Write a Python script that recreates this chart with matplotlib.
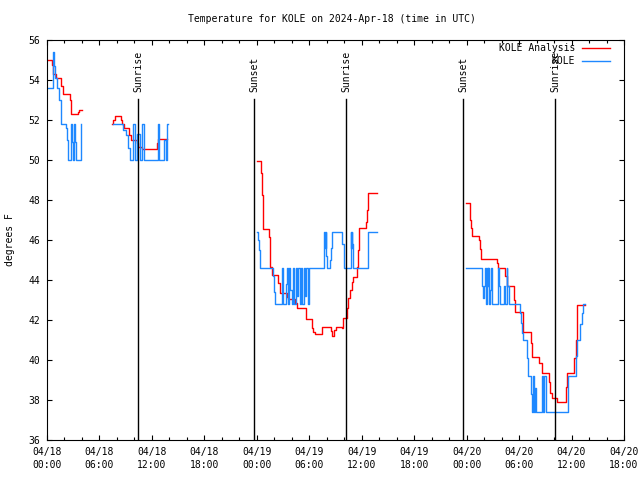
import matplotlib
matplotlib.use('Agg')
import matplotlib.pyplot as plt
from matplotlib.ticker import FixedLocator, MultipleLocator

plt.rcParams['font.family'] = 'DejaVu Sans Mono'
plt.rcParams['font.size'] = 7

# time axis in hours since 2024-04-18 00:00 UTC
tick_hours = [0, 6, 12, 18, 24, 30, 36, 42, 48, 54, 60, 66]
tick_labels = ['04/18\n00:00', '04/18\n06:00', '04/18\n12:00', '04/18\n18:00',
               '04/19\n00:00', '04/19\n06:00', '04/19\n12:00', '04/19\n18:00',
               '04/20\n00:00', '04/20\n06:00', '04/20\n12:00', '04/20\n18:00']

# KOLE Analysis (red), one list per stretch of data
red_t1 = [0.15, 0.53, 0.72, 1.03, 1.6, 1.8, 2.63, 2.75, 3.5, 3.7, 3.97]
red_v1 = [55.0, 54.75, 54.3, 54.1, 53.7, 53.3, 53.0, 52.3, 52.4, 52.5, 52.5]
red_t2 = [7.47, 7.6, 7.78, 8.46, 8.62, 8.8, 9.38, 9.61, 10.26, 10.45, 10.83, 12.55, 12.74, 13.76]
red_v2 = [51.8, 52.0, 52.2, 52.0, 51.8, 51.6, 51.25, 51.0, 50.85, 50.65, 50.55, 50.85, 51.05, 51.05]
red_t3 = [24.06, 24.44, 24.55, 24.67, 24.74, 25.43, 25.55, 25.7, 26.46, 26.65, 27.42, 27.6,
          28.37, 28.63, 29.63, 30.35, 30.47, 30.66, 31.5, 32.49, 32.64, 32.87, 33.02, 33.78,
          33.9, 34.35, 34.47, 34.66, 34.85, 35.04, 35.42, 35.54, 35.69, 36.45, 36.57, 36.68, 37.71]
red_v3 = [49.95, 49.33, 48.25, 47.13, 46.53, 46.17, 44.67, 44.25, 43.83, 43.33, 43.17, 43.05,
          42.83, 42.58, 42.05, 41.58, 41.4, 41.3, 41.67, 41.45, 41.2, 41.5, 41.67, 41.58,
          42.08, 42.6, 43.08, 43.5, 43.92, 44.13, 44.67, 45.5, 46.58, 46.9, 47.5, 48.37, 48.37]
red_t4 = [47.93, 48.38, 48.5, 48.65, 49.4, 49.5, 49.65, 51.44, 51.63, 52.39, 52.58, 53.42,
          53.55, 54.41, 54.49, 55.33, 55.44, 56.31, 56.59, 57.42, 57.54, 57.73, 58.3, 59.33,
          59.52, 60.28, 60.51, 60.66, 61.54]
red_v4 = [47.83, 47.0, 46.6, 46.2, 46.0, 45.53, 45.03, 44.83, 44.58, 44.2, 43.7, 43.0,
          42.38, 41.92, 41.38, 40.83, 40.17, 39.83, 39.33, 38.92, 38.33, 38.08, 37.92, 38.67,
          39.37, 40.08, 41.0, 42.75, 42.75]

# KOLE observations (blue)
blue_t1 = [0.15, 0.72, 0.8, 0.92, 1.1, 1.41, 1.55, 2.17, 2.33, 2.44, 2.71, 2.82, 2.93,
           3.09, 3.2, 3.32, 3.89, 3.9]
blue_v1 = [53.6, 55.4, 54.7, 54.1, 53.6, 53.0, 51.8, 51.6, 51.0, 50.0, 51.8, 50.9, 50.0,
           51.8, 50.9, 50.0, 51.8, 51.8]
blue_t2 = [7.51, 8.73, 9.04, 9.3, 9.49, 9.87, 10.07, 10.33, 10.64, 10.9, 11.13, 12.74,
           12.85, 13.42, 13.58, 13.69, 13.8]
blue_v2 = [51.8, 51.5, 51.25, 50.6, 50.0, 51.8, 50.0, 51.3, 50.0, 51.8, 50.0, 51.8,
           50.0, 51.0, 50.0, 51.8, 51.8]
blue_t3 = [24.06, 24.17, 24.25, 24.36, 25.85, 25.95, 26.1, 26.85, 26.95, 27.3, 27.4, 27.55,
           27.7, 27.85, 28.0, 28.15, 28.3, 28.45, 28.6, 28.75, 28.9, 29.05, 29.2, 29.35,
           29.5, 29.65, 29.8, 29.95, 31.69, 31.8, 31.88, 31.95, 32.0, 32.37, 32.49, 32.64,
           33.7, 33.97, 34.74, 34.8, 34.85, 34.9, 34.97, 36.76, 37.71]
blue_v3 = [46.4, 46.0, 45.5, 44.6, 44.2, 43.4, 42.8, 44.6, 42.8, 43.8, 44.6, 42.8,
           44.6, 43.5, 42.8, 44.6, 42.8, 44.6, 43.2, 44.6, 42.8, 44.6, 42.8, 44.6,
           43.2, 44.6, 42.8, 44.6, 46.4, 45.6, 46.4, 45.2, 44.6, 45.0, 45.6, 46.4,
           45.8, 44.6, 46.4, 45.6, 46.4, 45.8, 44.6, 46.4, 46.4]
blue_t4 = [47.93, 49.72, 49.91, 50.03, 50.1, 50.22, 50.29, 50.41, 50.48, 50.6, 50.68, 50.75,
           50.87, 51.63, 51.75, 51.82, 52.28, 52.39, 52.58, 52.66, 52.85, 54.11, 54.22, 54.3,
           54.41, 54.87, 54.94, 55.06, 55.37, 55.52, 55.63, 55.71, 55.82, 55.94, 56.66, 56.77,
           56.89, 57.04, 59.63, 60.47, 60.59, 60.97, 61.16, 61.35, 61.54]
blue_v4 = [44.6, 43.7, 43.1, 43.7, 44.6, 42.8, 44.6, 43.7, 44.6, 42.8, 43.5, 44.6,
           42.8, 44.6, 43.7, 42.8, 43.7, 42.8, 44.6, 43.7, 42.8, 42.35, 41.85, 41.35,
           41.0, 40.5, 40.1, 39.2, 38.3, 37.4, 39.2, 37.4, 38.6, 37.4, 39.2, 37.4,
           39.2, 37.4, 39.2, 40.2, 41.0, 41.8, 42.35, 42.8, 42.8]

sun_hours = [10.45, 23.7, 34.2, 47.62, 58.15]
sun_names = ['Sunrise', 'Sunset', 'Sunrise', 'Sunset', 'Sunrise']

red_segments = [(red_t1, red_v1), (red_t2, red_v2), (red_t3, red_v3), (red_t4, red_v4)]
blue_segments = [(blue_t1, blue_v1), (blue_t2, blue_v2), (blue_t3, blue_v3), (blue_t4, blue_v4)]

fig = plt.figure(figsize=(6.4, 4.8), dpi=100)
ax = fig.add_axes([47/640, 40/480, 577/640, 400/480])

red = '#ff0000'
blue = '#1e88ff'
for i, (t, v) in enumerate(red_segments):
    ax.plot(t, v, drawstyle='steps-post', color=red, lw=1.0,
            label='KOLE Analysis' if i == 0 else None)
for i, (t, v) in enumerate(blue_segments):
    ax.plot(t, v, drawstyle='steps-post', color=blue, lw=1.0,
            label='KOLE' if i == 0 else None)

for h, name in zip(sun_hours, sun_names):
    ax.axvline(h, ymin=0, ymax=0.852, color='black', lw=1.0)
    ax.text(h, 0.87, name, transform=ax.get_xaxis_transform(), rotation=90,
            ha='center', va='bottom')

ax.set_xlim(0, 66)
ax.set_ylim(36, 56)
ax.xaxis.set_major_locator(FixedLocator(tick_hours))
ax.set_xticklabels(tick_labels, linespacing=1.4)
ax.xaxis.set_minor_locator(MultipleLocator(2))
ax.yaxis.set_major_locator(MultipleLocator(2))
ax.tick_params(which='both', direction='in', top=True, right=True, width=0.8)
ax.tick_params(which='major', length=3.5)
ax.tick_params(which='minor', length=2.4)
ax.tick_params(axis='x', pad=5)
ax.tick_params(axis='y', pad=5)
for s in ax.spines.values():
    s.set_linewidth(0.8)

leg = ax.legend(loc='upper right', bbox_to_anchor=(0.9757, 0.9925), borderaxespad=0,
                frameon=False, markerfirst=False, handlelength=2.9,
                handletextpad=0.7, labelspacing=0.35, borderpad=0)

fig.text(332/640, 1 - 19/480, 'Temperature for KOLE on 2024-Apr-18 (time in UTC)',
         ha='center', va='center')
fig.text(10/640, 0.5, 'degrees F', rotation=90, ha='center', va='center')

fig.savefig('out.png', dpi=100)
